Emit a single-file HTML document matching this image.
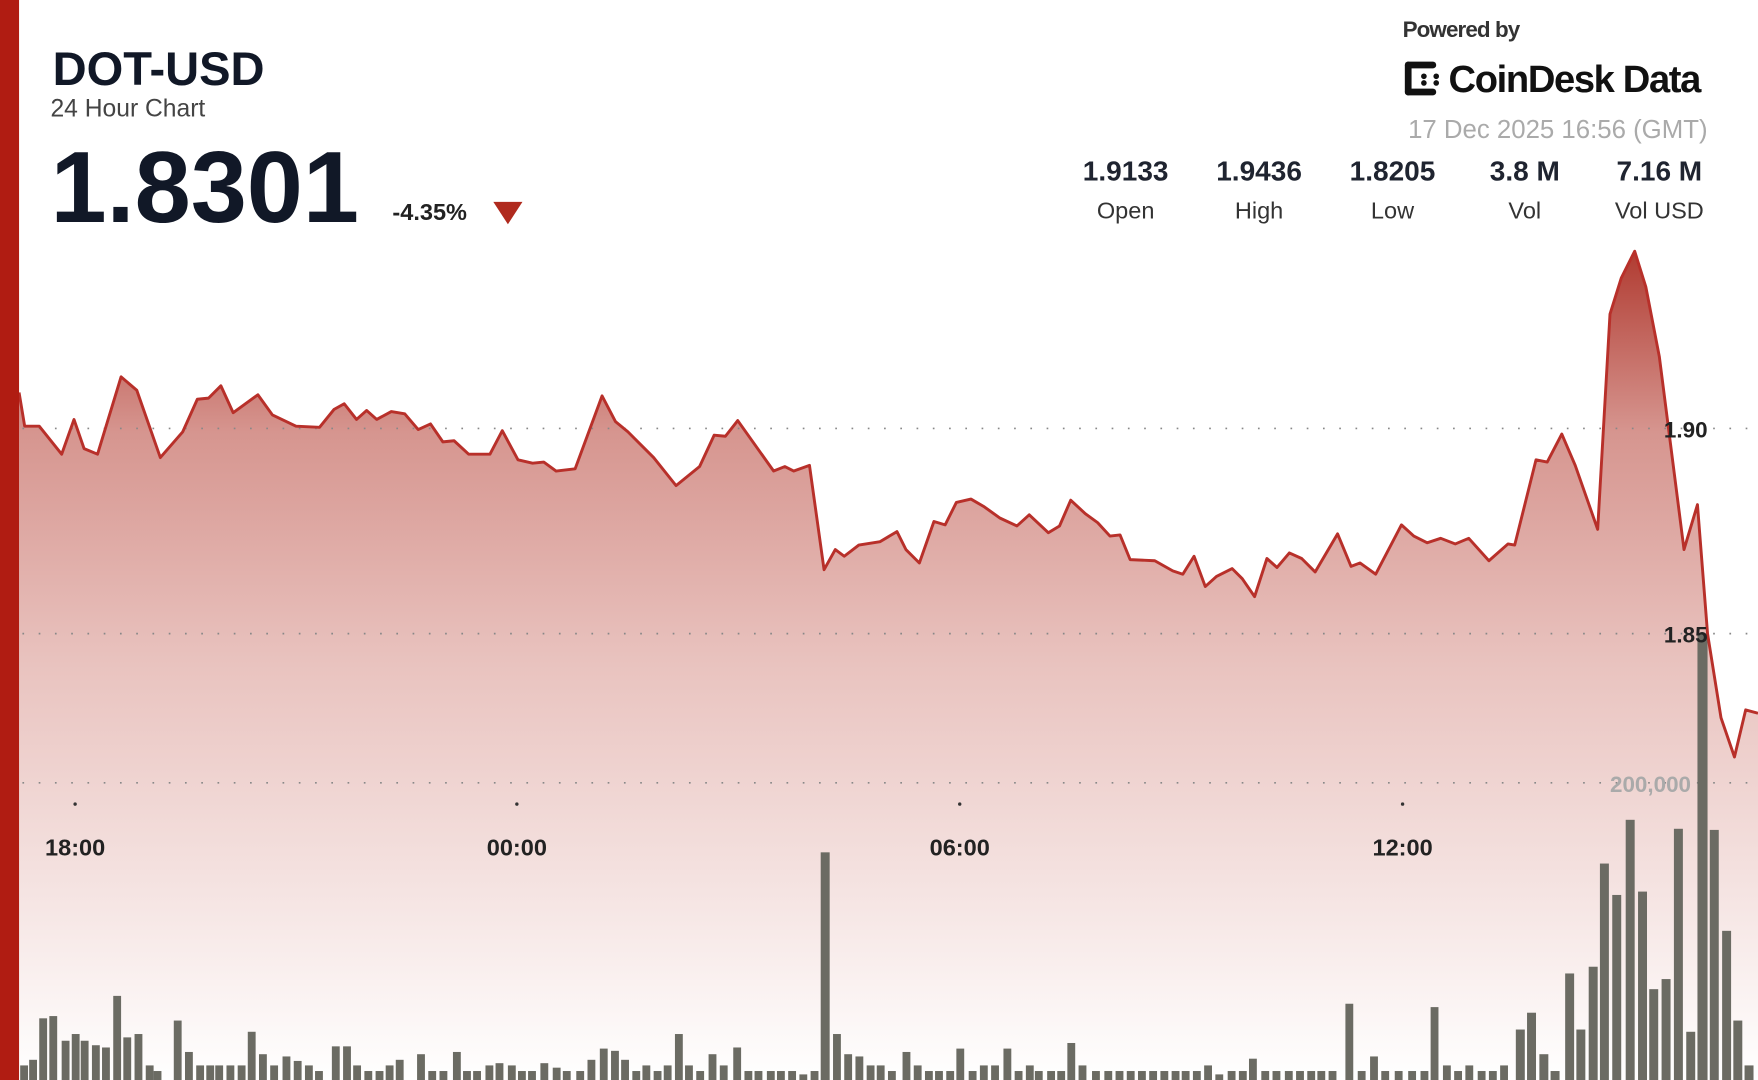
<!DOCTYPE html>
<html><head><meta charset="utf-8"><style>
html,body{margin:0;padding:0;background:#fff;width:1758px;height:1080px;overflow:hidden}
svg{display:block}
text{font-family:"Liberation Sans",sans-serif}
</style></head><body>
<svg width="1758" height="1080" viewBox="0 0 1568 963" preserveAspectRatio="none">
<defs>
<linearGradient id="g" gradientUnits="userSpaceOnUse" x1="0" y1="222" x2="0" y2="963">
<stop offset="0" stop-color="#b03a30"/>
<stop offset="0.22" stop-color="#d6958f"/>
<stop offset="0.5" stop-color="#e9c3bf"/>
<stop offset="1" stop-color="#ffffff"/>
</linearGradient>
</defs>
<rect width="1568" height="963" fill="#fff"/>
<polygon fill="url(#g)" points="17,963 17,350 22,380 35,380 55,405 66,374 75,400 87,405 108,336 122,348 143,408 163,385 176,356 186,355 197,344 208,368 230,352 243,370 264,380 285,381 298,365 307,360 318,374 327,366 336,374 349,367 361,369 373,383 384,378 395,394 405,393 418,405 437,405 448,384 462,410 475,413 485,412 496,420 513,418 537,353 549,376 560,385 583,408 603,433 624,416 637,388 647,389 658,375 690,420 700,416 708,420 722,415 735,508 745,490 753,496 766,486 785,483 800,474 808,490 820,502 833,465 843,468 853,448 866,445 878,452 892,462 907,469 918,459 935,475 945,469 955,446 968,458 979,466 990,478 999,477 1008,499 1030,500 1046,509 1055,512 1065,496 1075,523 1085,514 1099,507 1108,516 1119,532 1130,498 1139,506 1150,493 1161,498 1173,510 1193,476 1205,505 1213,502 1227,512 1250,468 1261,478 1273,484 1285,480 1298,485 1310,480 1328,500 1345,485 1351,486 1370,410 1380,412 1393,387 1405,415 1425,472 1436,280 1446,248 1458,224 1468,256 1480,318 1502,490 1514,450 1523,565 1535,640 1547,675 1557,633 1568,636 1568,963"/>
<g stroke="#888" stroke-width="1.5" stroke-dasharray="1.5,13" fill="none">
<line x1="20" y1="382" x2="1568" y2="382"/>
<line x1="20" y1="565" x2="1568" y2="565"/>
<line x1="20" y1="698" x2="1568" y2="698"/>
</g>
<g fill="#333"><circle cx="67" cy="717" r="1.5"/><circle cx="461" cy="717" r="1.5"/><circle cx="856" cy="717" r="1.5"/><circle cx="1251" cy="717" r="1.5"/></g>
<text x="1436" y="706" font-size="20" font-weight="bold" fill="#aaa">200,000</text>
<g fill="#6b6b63">
<rect x="18" y="950" width="7" height="13"/><rect x="26" y="945" width="7" height="18"/><rect x="35" y="908" width="7" height="55"/><rect x="44" y="906" width="7" height="57"/><rect x="55" y="928" width="7" height="35"/><rect x="64" y="922" width="7" height="41"/><rect x="72" y="928" width="7" height="35"/><rect x="82" y="932" width="7" height="31"/><rect x="91" y="934" width="7" height="29"/><rect x="101" y="888" width="7" height="75"/><rect x="110" y="925" width="7" height="38"/><rect x="120" y="922" width="7" height="41"/><rect x="130" y="950" width="7" height="13"/><rect x="137" y="955" width="7" height="8"/><rect x="155" y="910" width="7" height="53"/><rect x="165" y="938" width="7" height="25"/><rect x="175" y="950" width="7" height="13"/><rect x="184" y="950" width="7" height="13"/><rect x="192" y="950" width="7" height="13"/><rect x="202" y="950" width="7" height="13"/><rect x="212" y="950" width="7" height="13"/><rect x="221" y="920" width="7" height="43"/><rect x="231" y="940" width="7" height="23"/><rect x="241" y="950" width="7" height="13"/><rect x="252" y="942" width="7" height="21"/><rect x="262" y="946" width="7" height="17"/><rect x="272" y="950" width="7" height="13"/><rect x="281" y="955" width="7" height="8"/><rect x="296" y="933" width="7" height="30"/><rect x="306" y="933" width="7" height="30"/><rect x="315" y="950" width="7" height="13"/><rect x="325" y="955" width="7" height="8"/><rect x="335" y="955" width="7" height="8"/><rect x="344" y="950" width="7" height="13"/><rect x="353" y="945" width="7" height="18"/><rect x="372" y="940" width="7" height="23"/><rect x="382" y="955" width="7" height="8"/><rect x="392" y="955" width="7" height="8"/><rect x="404" y="938" width="7" height="25"/><rect x="413" y="955" width="7" height="8"/><rect x="422" y="955" width="7" height="8"/><rect x="433" y="950" width="7" height="13"/><rect x="442" y="948" width="7" height="15"/><rect x="453" y="950" width="7" height="13"/><rect x="462" y="955" width="7" height="8"/><rect x="471" y="955" width="7" height="8"/><rect x="482" y="948" width="7" height="15"/><rect x="493" y="952" width="7" height="11"/><rect x="502" y="955" width="7" height="8"/><rect x="514" y="955" width="7" height="8"/><rect x="524" y="945" width="7" height="18"/><rect x="535" y="935" width="7" height="28"/><rect x="545" y="937" width="7" height="26"/><rect x="554" y="945" width="7" height="18"/><rect x="564" y="955" width="7" height="8"/><rect x="573" y="950" width="7" height="13"/><rect x="583" y="955" width="7" height="8"/><rect x="592" y="950" width="7" height="13"/><rect x="602" y="922" width="7" height="41"/><rect x="611" y="950" width="7" height="13"/><rect x="621" y="955" width="7" height="8"/><rect x="632" y="940" width="7" height="23"/><rect x="642" y="950" width="7" height="13"/><rect x="654" y="934" width="7" height="29"/><rect x="664" y="955" width="7" height="8"/><rect x="673" y="955" width="7" height="8"/><rect x="684" y="955" width="7" height="8"/><rect x="693" y="955" width="7" height="8"/><rect x="703" y="955" width="7" height="8"/><rect x="713" y="958" width="7" height="5"/><rect x="723" y="955" width="7" height="8"/><rect x="732" y="760" width="8" height="203"/><rect x="743" y="922" width="7" height="41"/><rect x="753" y="940" width="7" height="23"/><rect x="763" y="942" width="7" height="21"/><rect x="773" y="950" width="7" height="13"/><rect x="782" y="950" width="7" height="13"/><rect x="792" y="955" width="7" height="8"/><rect x="805" y="938" width="7" height="25"/><rect x="815" y="950" width="7" height="13"/><rect x="825" y="955" width="7" height="8"/><rect x="834" y="955" width="7" height="8"/><rect x="844" y="955" width="7" height="8"/><rect x="853" y="935" width="7" height="28"/><rect x="864" y="955" width="7" height="8"/><rect x="874" y="950" width="7" height="13"/><rect x="884" y="950" width="7" height="13"/><rect x="895" y="935" width="7" height="28"/><rect x="905" y="955" width="7" height="8"/><rect x="915" y="950" width="7" height="13"/><rect x="923" y="955" width="7" height="8"/><rect x="934" y="955" width="7" height="8"/><rect x="943" y="955" width="7" height="8"/><rect x="952" y="930" width="7" height="33"/><rect x="962" y="950" width="7" height="13"/><rect x="974" y="955" width="7" height="8"/><rect x="985" y="955" width="7" height="8"/><rect x="995" y="955" width="7" height="8"/><rect x="1005" y="955" width="7" height="8"/><rect x="1015" y="955" width="7" height="8"/><rect x="1025" y="955" width="7" height="8"/><rect x="1035" y="955" width="7" height="8"/><rect x="1045" y="955" width="7" height="8"/><rect x="1054" y="955" width="7" height="8"/><rect x="1064" y="955" width="7" height="8"/><rect x="1074" y="950" width="7" height="13"/><rect x="1084" y="958" width="7" height="5"/><rect x="1095" y="955" width="7" height="8"/><rect x="1105" y="955" width="7" height="8"/><rect x="1114" y="944" width="7" height="19"/><rect x="1125" y="955" width="7" height="8"/><rect x="1135" y="955" width="7" height="8"/><rect x="1146" y="955" width="7" height="8"/><rect x="1156" y="955" width="7" height="8"/><rect x="1166" y="955" width="7" height="8"/><rect x="1175" y="955" width="7" height="8"/><rect x="1185" y="955" width="7" height="8"/><rect x="1200" y="895" width="7" height="68"/><rect x="1211" y="955" width="7" height="8"/><rect x="1222" y="942" width="7" height="21"/><rect x="1232" y="955" width="7" height="8"/><rect x="1244" y="955" width="7" height="8"/><rect x="1256" y="955" width="7" height="8"/><rect x="1267" y="955" width="7" height="8"/><rect x="1276" y="898" width="7" height="65"/><rect x="1287" y="950" width="7" height="13"/><rect x="1297" y="955" width="7" height="8"/><rect x="1307" y="950" width="7" height="13"/><rect x="1318" y="955" width="7" height="8"/><rect x="1328" y="955" width="7" height="8"/><rect x="1338" y="950" width="7" height="13"/><rect x="1352" y="918" width="8" height="45"/><rect x="1362" y="903" width="8" height="60"/><rect x="1373" y="940" width="8" height="23"/><rect x="1383" y="955" width="8" height="8"/><rect x="1396" y="868" width="8" height="95"/><rect x="1406" y="918" width="8" height="45"/><rect x="1417" y="862" width="8" height="101"/><rect x="1427" y="770" width="8" height="193"/><rect x="1438" y="798" width="8" height="165"/><rect x="1450" y="731" width="8" height="232"/><rect x="1461" y="795" width="8" height="168"/><rect x="1471" y="882" width="8" height="81"/><rect x="1482" y="873" width="8" height="90"/><rect x="1493" y="739" width="8" height="224"/><rect x="1504" y="920" width="8" height="43"/><rect x="1514" y="565" width="9" height="398"/><rect x="1525" y="740" width="8" height="223"/><rect x="1536" y="830" width="8" height="133"/><rect x="1546" y="910" width="8" height="53"/><rect x="1556" y="950" width="8" height="13"/>
</g>
<polyline fill="none" stroke="#b8302a" stroke-width="2.6" stroke-linejoin="round" points="17,350 22,380 35,380 55,405 66,374 75,400 87,405 108,336 122,348 143,408 163,385 176,356 186,355 197,344 208,368 230,352 243,370 264,380 285,381 298,365 307,360 318,374 327,366 336,374 349,367 361,369 373,383 384,378 395,394 405,393 418,405 437,405 448,384 462,410 475,413 485,412 496,420 513,418 537,353 549,376 560,385 583,408 603,433 624,416 637,388 647,389 658,375 690,420 700,416 708,420 722,415 735,508 745,490 753,496 766,486 785,483 800,474 808,490 820,502 833,465 843,468 853,448 866,445 878,452 892,462 907,469 918,459 935,475 945,469 955,446 968,458 979,466 990,478 999,477 1008,499 1030,500 1046,509 1055,512 1065,496 1075,523 1085,514 1099,507 1108,516 1119,532 1130,498 1139,506 1150,493 1161,498 1173,510 1193,476 1205,505 1213,502 1227,512 1250,468 1261,478 1273,484 1285,480 1298,485 1310,480 1328,500 1345,485 1351,486 1370,410 1380,412 1393,387 1405,415 1425,472 1436,280 1446,248 1458,224 1468,256 1480,318 1502,490 1514,450 1523,565 1535,640 1547,675 1557,633 1568,636"/>
<g font-size="20" font-weight="bold" fill="#222" text-anchor="end">
<text x="1523" y="390">1.90</text>
<text x="1523" y="573">1.85</text>
</g>
<g font-size="21" font-weight="bold" fill="#222" text-anchor="middle">
<text x="67" y="763">18:00</text><text x="461" y="763">00:00</text><text x="856" y="763">06:00</text><text x="1251" y="763">12:00</text>
</g>
<rect x="0" y="0" width="17" height="963" fill="#b01c12"/>
<text x="47" y="76" font-size="42" font-weight="bold" fill="#111827">DOT-USD</text>
<text x="45" y="104" font-size="22" fill="#444">24 Hour Chart</text>
<text x="45" y="198" font-size="90" font-weight="bold" fill="#111827">1.8301</text>
<text x="350" y="196" font-size="21" font-weight="bold" fill="#222">-4.35%</text>
<polygon points="440,180 466,180 453,200" fill="#b02a1e"/>
<text x="1251" y="33" font-size="20" font-weight="bold" fill="#333" letter-spacing="-0.8">Powered by</text>
<g fill="#111">
<rect x="1253" y="55" width="6" height="30" rx="3"/><rect x="1253" y="55" width="28" height="6" rx="3"/><rect x="1253" y="79" width="28" height="6" rx="3"/>
<circle cx="1270" cy="68" r="2.5"/><circle cx="1270" cy="74" r="2.5"/><circle cx="1281" cy="68" r="2.5"/><circle cx="1281" cy="74" r="2.5"/>
</g>
<text x="1292" y="82" font-size="34" font-weight="bold" fill="#111" letter-spacing="-1.2">CoinDesk Data</text>
<text x="1523" y="123" font-size="23" fill="#aaa" text-anchor="end">17 Dec 2025 16:56 (GMT)</text>
<g text-anchor="middle">
<g font-size="25" font-weight="bold" fill="#1f2430">
<text x="1004" y="161">1.9133</text><text x="1123" y="161">1.9436</text><text x="1242" y="161">1.8205</text><text x="1360" y="161">3.8 M</text><text x="1480" y="161">7.16 M</text>
</g>
<g font-size="21" fill="#333">
<text x="1004" y="195">Open</text><text x="1123" y="195">High</text><text x="1242" y="195">Low</text><text x="1360" y="195">Vol</text><text x="1480" y="195">Vol USD</text>
</g>
</g>
</svg>
</body></html>
